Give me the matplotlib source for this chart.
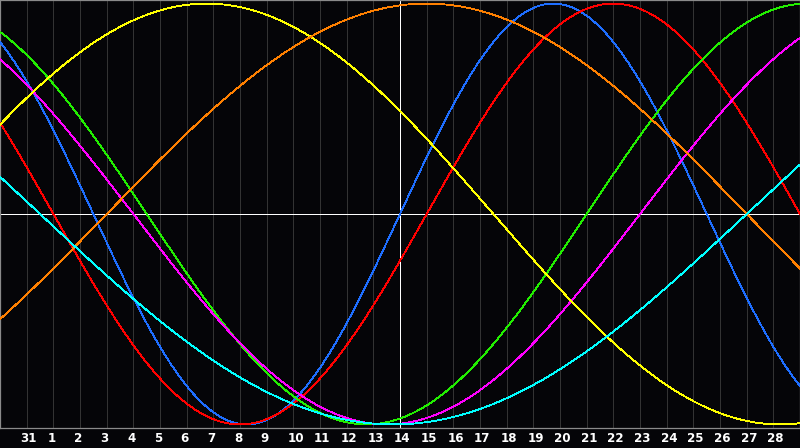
import numpy as np
import matplotlib
matplotlib.use("Agg")
import matplotlib.pyplot as plt

# Biorhythm cycles (period in days) and their colours
cycle_names = ["Physical", "Emotional", "Intellectual", "Intuitive", "Aesthetic", "Awareness", "Spiritual"]
periods = [23, 28, 33, 38, 43, 48, 53]
colors = ["#1e6eff", "#ff0000", "#22ee00", "#ff00ff", "#ffff00", "#ff8000", "#00ffff"]

# Days since birth on "today" (day index 15 = the 14th)
days_since_birth_today = 19067
today_index = 15

# Day labels shown under grid lines 1..29
day_labels = ["31"] + [str(d) for d in range(1, 29)]

n_days = 30  # x runs from 0 to 30 (days)

fig = plt.figure(figsize=(8.0, 4.48), dpi=100, facecolor="#050508")
ax = fig.add_axes([0, 20 / 448, 1, 428 / 448])
ax.set_facecolor("#050508")
ax.set_xlim(0, n_days)
ax.set_ylim(-1.017, 1.017)

# vertical grid lines
for i in range(1, n_days):
    ax.axvline(i, color="#333333", lw=0.6, antialiased=False, zorder=1)

# axes: horizontal middle and vertical today line
ax.axhline(0, color="#ffffff", lw=0.6, antialiased=False, zorder=2)
ax.axvline(today_index, color="#ffffff", lw=0.6, antialiased=False, zorder=2)

x = np.linspace(0, n_days, 1201)
for p, c in zip(periods, colors):
    d = days_since_birth_today + (x - today_index)
    y = np.sin(2 * np.pi * d / p)
    ax.plot(x, y, color=c, lw=0.6, antialiased=False, zorder=3)

for spine in ax.spines.values():
    spine.set_color("#8a8a8a")
    spine.set_linewidth(0.9)
ax.set_xticks([])
ax.set_yticks([])

# day labels below the plot
for i, lab in enumerate(day_labels, start=1):
    fig.text((i - 0.225) / n_days, 9.5 / 448, lab, color="white", fontsize=8.6,
             fontweight="bold", ha="left", va="center", family="DejaVu Sans")

fig.savefig("out.png", dpi=100, facecolor=fig.get_facecolor())
